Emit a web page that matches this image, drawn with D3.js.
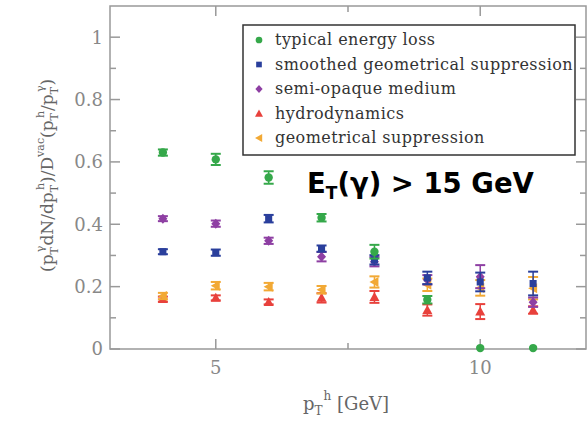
<!DOCTYPE html>
<html>
<head>
<meta charset="utf-8">
<script src="https://cdn.jsdelivr.net/npm/d3@7"></script>
<style>
  body { margin: 0; background: #fff; }
  svg { display: block; }
  .tick-label { font-family: "DejaVu Serif", serif; font-size: 18px; fill: #888; }
  .axis-title { font-family: "DejaVu Serif", serif; font-size: 17px; fill: #666; }
  .legend-text { font-family: "DejaVu Serif", serif; font-size: 16px; fill: #333; letter-spacing: 0.45px; }
</style>
</head>
<body>
<script>
const pt = [4, 5, 6, 7, 8, 9, 10, 11];

const typicalLoss = [0.630, 0.608, 0.550, 0.421, 0.312, 0.158, 0.003, 0.003];
const typicalErr = [0.010, 0.018, 0.020, 0.012, 0.022, 0.012, 0, 0];

const smoothedGeo = [0.312, 0.309, 0.418, 0.322, 0.286, 0.228, 0.215, 0.210];
const smoothedErr = [0.008, 0.010, 0.012, 0.010, 0.015, 0.020, 0.030, 0.038];

const semiOpaque = [0.418, 0.402, 0.347, 0.296, 0.280, 0.222, 0.232, 0.150];
const semiErr = [0.008, 0.010, 0.010, 0.015, 0.015, 0.015, 0.037, 0.015];

const hydro = [0.160, 0.164, 0.151, 0.164, 0.167, 0.125, 0.120, 0.125];
const hydroErr = [0.008, 0.008, 0.008, 0.015, 0.019, 0.018, 0.024, 0.012];

const geoSupp = [0.170, 0.203, 0.200, 0.190, 0.215, 0.206, 0.196, 0.195];
const geoErr = [0.010, 0.012, 0.012, 0.012, 0.018, 0.020, 0.025, 0.036];

const legendLabels = ["typical energy loss", "smoothed geometrical suppression", "semi-opaque medium", "hydrodynamics", "geometrical suppression"];
const yTicks = [0, 0.2, 0.4, 0.6, 0.8, 1];
const xTicks = [5, 10];

const width = 588, height = 421;
const margin = {left: 110, right: 2, top: 6, bottom: 72};

const svg = d3.select("body").append("svg")
  .attr("width", width)
  .attr("height", height);

const x = d3.scaleLinear().domain([3, 12]).range([margin.left, width - margin.right]);
const y = d3.scaleLinear().domain([0, 1.1]).range([height - margin.bottom, margin.top]);

const frameColor = "#999";

// frame
svg.append("rect")
  .attr("x", x(3)).attr("y", y(1.1))
  .attr("width", x(12) - x(3)).attr("height", y(0) - y(1.1))
  .attr("fill", "none").attr("stroke", frameColor).attr("stroke-width", 1.5);

// y ticks on both sides, pointing inward
const yMajor = d3.range(0, 1.05, 0.2);
const yMinor = d3.range(0.1, 1.1, 0.2);
yMajor.forEach((v) => {
  svg.append("line").attr("x1", x(3)).attr("x2", x(3) + 10).attr("y1", y(v)).attr("y2", y(v)).attr("stroke", frameColor).attr("stroke-width", 1.5);
  svg.append("line").attr("x1", x(12)).attr("x2", x(12) - 10).attr("y1", y(v)).attr("y2", y(v)).attr("stroke", frameColor).attr("stroke-width", 1.5);
});
yMinor.forEach((v) => {
  svg.append("line").attr("x1", x(3)).attr("x2", x(3) + 6).attr("y1", y(v)).attr("y2", y(v)).attr("stroke", frameColor).attr("stroke-width", 1.5);
  svg.append("line").attr("x1", x(12)).attr("x2", x(12) - 6).attr("y1", y(v)).attr("y2", y(v)).attr("stroke", frameColor).attr("stroke-width", 1.5);
});

// x ticks
[5, 10].forEach((v) => {
  svg.append("line").attr("x1", x(v)).attr("x2", x(v)).attr("y1", y(0)).attr("y2", y(0) - 10).attr("stroke", frameColor).attr("stroke-width", 1.5);
  svg.append("line").attr("x1", x(v)).attr("x2", x(v)).attr("y1", y(1.1)).attr("y2", y(1.1) + 10).attr("stroke", frameColor).attr("stroke-width", 1.5);
});
[7.5].forEach((v) => {
  svg.append("line").attr("x1", x(v)).attr("x2", x(v)).attr("y1", y(0)).attr("y2", y(0) - 6).attr("stroke", frameColor).attr("stroke-width", 1.5);
  svg.append("line").attr("x1", x(v)).attr("x2", x(v)).attr("y1", y(1.1)).attr("y2", y(1.1) + 6).attr("stroke", frameColor).attr("stroke-width", 1.5);
});

// tick labels
svg.selectAll(".ylab").data(yTicks).enter().append("text")
  .attr("class", "tick-label")
  .attr("x", x(3) - 7)
  .attr("y", (d) => y(d))
  .attr("dy", "0.36em")
  .attr("text-anchor", "end")
  .text((d) => d === 0 || d === 1 ? d : d.toFixed(1));

svg.selectAll(".xlab").data(xTicks).enter().append("text")
  .attr("class", "tick-label")
  .attr("x", (d) => x(d))
  .attr("y", y(0) + 25)
  .attr("text-anchor", "middle")
  .text((d) => d);

// axis titles
const xt = svg.append("text").attr("class", "axis-title")
  .attr("x", 303).attr("y", 410).style("font-size", "18px");
xt.append("tspan").text("p");
xt.append("tspan").attr("dy", 5).attr("font-size", 12).text("T");
xt.append("tspan").attr("dy", -15).attr("dx", 1).attr("font-size", 12).text("h");
xt.append("tspan").attr("dy", 10).text(" [GeV]");

const yt = svg.append("text").attr("class", "axis-title")
  .attr("transform", "translate(53,272) rotate(-90)");
const sub = (t) => { yt.append("tspan").attr("dy", 5).attr("font-size", 11).text(t); };
const sup = (t) => { yt.append("tspan").attr("dy", -14).attr("dx", -5).attr("font-size", 11).text(t); };
const norm = (t) => { yt.append("tspan").attr("dy", 9).text(t); };
yt.append("tspan").text("(p");
sub("T"); sup("γ"); norm("dN/dp");
sub("T"); sup("h"); norm(")/D");
yt.append("tspan").attr("dy", -9).attr("font-size", 11).text("vac");
norm("(p");
sub("T"); sup("h"); norm("/p");
sub("T"); sup("γ"); norm(")");

// series
const series = [
  {name: legendLabels[3], vals: hydro, err: hydroErr, color: "#e8413c", shape: "tri"},
  {name: legendLabels[4], vals: geoSupp, err: geoErr, color: "#f2a935", shape: "left"},
  {name: legendLabels[2], vals: semiOpaque, err: semiErr, color: "#8e3fa3", shape: "diamond"},
  {name: legendLabels[1], vals: smoothedGeo, err: smoothedErr, color: "#2a3f9c", shape: "square"},
  {name: legendLabels[0], vals: typicalLoss, err: typicalErr, color: "#35a84a", shape: "circle"}
];

const symbolPath = (shape) => {
  if (shape === "circle") return d3.symbol().type(d3.symbolCircle).size(55)();
  if (shape === "square") return d3.symbol().type(d3.symbolSquare).size(50)();
  if (shape === "diamond") return "M0,-5L4.5,0L0,5L-4.5,0Z";
  if (shape === "tri") return "M0,-5L5,4L-5,4Z";
  return "M-5,0L4,-5L4,5Z";
};

series.forEach((s) => {
  const g = svg.append("g");
  const pts = pt.map((p, i) => ({x: p, y: s.vals[i], e: s.err[i]}));
  pts.filter((d) => d.e > 0).forEach((d) => {
    g.append("line").attr("x1", x(d.x)).attr("x2", x(d.x)).attr("y1", y(d.y - d.e)).attr("y2", y(d.y + d.e))
      .attr("stroke", s.color).attr("stroke-width", 1.5);
    [d.y - d.e, d.y + d.e].forEach((v) => {
      g.append("line").attr("x1", x(d.x) - 5).attr("x2", x(d.x) + 5).attr("y1", y(v)).attr("y2", y(v))
        .attr("stroke", s.color).attr("stroke-width", 2);
    });
  });
  g.selectAll("path").data(pts).enter().append("path")
    .attr("d", symbolPath(s.shape))
    .attr("transform", (d) => "translate(" + x(d.x) + "," + y(d.y) + ")")
    .attr("fill", s.color);
});

// legend
const legend = svg.append("g");
legend.append("rect")
  .attr("x", 243).attr("y", 25).attr("width", 332).attr("height", 130)
  .attr("fill", "#fff").attr("stroke", "#333").attr("stroke-width", 1.5);
const legendOrder = [4, 3, 2, 0, 1];
legendOrder.forEach((si, i) => {
  const s = series[si];
  const ly = 40 + i * 24.5;
  legend.append("path")
    .attr("d", symbolPath(s.shape))
    .attr("transform", "translate(259," + ly + ") scale(0.8)")
    .attr("fill", s.color);
  legend.append("text")
    .attr("class", "legend-text")
    .attr("x", 275).attr("y", ly + 5)
    .text(s.name);
});

// annotation
const ann = svg.append("text")
  .attr("x", 307).attr("y", 193)
  .attr("font-family", "DejaVu Sans, sans-serif")
  .attr("font-weight", "bold")
  .attr("font-size", 27.5)
  .attr("fill", "#000");
ann.append("tspan").text("E");
ann.append("tspan").attr("dy", 6).attr("font-size", 17).text("T");
ann.append("tspan").attr("dy", -6).text("(γ) > 15 GeV");
</script>
</body>
</html>
